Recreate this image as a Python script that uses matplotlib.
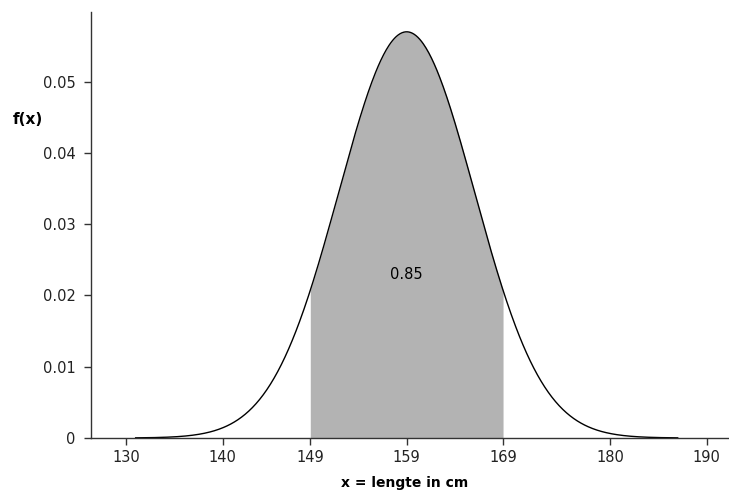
import numpy as np
import matplotlib.pyplot as plt
import matplotlib.ticker as ticker

# distribution parameters
mu = 159.0
sigma = 7.0
x_start, x_end = 131.0, 187.0
shade_lo, shade_hi = 149.0, 169.0
area_label = "0.85"

x_ticks = [130, 140, 149, 159, 169, 180, 190]
y_ticks = [0, 0.01, 0.02, 0.03, 0.04, 0.05]

plt.rcParams["font.family"] = "DejaVu Sans"
plt.rcParams["font.size"] = 10.5

x = np.linspace(x_start, x_end, 600)
y = np.exp(-0.5 * ((x - mu) / sigma) ** 2) / (sigma * np.sqrt(2 * np.pi))

fig = plt.figure(figsize=(7.29, 4.91), dpi=100)
ax = fig.add_axes([0.125, 0.108, 0.875, 0.868])

mask = (x >= shade_lo) & (x <= shade_hi)
ax.fill_between(x[mask], 0, y[mask], color="#b3b3b3", linewidth=0)
ax.plot(x, y, color="black", linewidth=1.0)

ax.text(mu, 0.0229, area_label, ha="center", va="center", fontsize=10.5)

ax.set_xlim(126.4, 192.3)
ax.set_ylim(0, 0.0598)
ax.set_xticks(x_ticks)
ax.set_yticks(y_ticks)
ax.yaxis.set_major_formatter(ticker.FuncFormatter(lambda v, pos: "0" if v == 0 else "{:.2f}".format(v)))

for side in ["top", "right"]:
    ax.spines[side].set_visible(False)
for side in ["left", "bottom"]:
    ax.spines[side].set_color("#333333")
    ax.spines[side].set_linewidth(1.0)
ax.tick_params(direction="out", length=5, width=1.0, color="#333333", labelcolor="#222222")
ax.tick_params(axis="y", pad=6)
ax.tick_params(axis="x", pad=4)

fig.text(28 / 729, 1 - 120 / 491, "f(x)", fontweight="bold", fontsize=11, ha="center", va="center")
fig.text(405 / 729, 1 - 483 / 491, "x = lengte in cm", fontweight="bold", fontsize=10, ha="center", va="center")

fig.savefig("out.png", dpi=100)
